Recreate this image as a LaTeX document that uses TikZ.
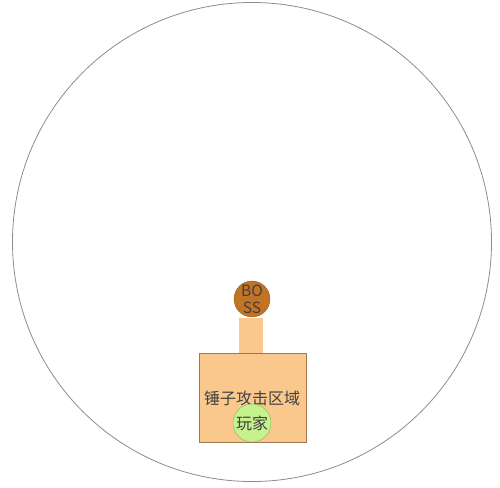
\documentclass[tikz,border=0pt]{standalone}
\usepackage{fontspec}
\newfontfamily\cjk{Noto Sans CJK SC}
\definecolor{arena}{HTML}{8C8C8C}
\definecolor{bossfill}{HTML}{C27424}
\definecolor{bossline}{HTML}{8A5A2A}
\definecolor{zonefill}{HTML}{FAC88C}
\definecolor{zoneline}{HTML}{A07850}
\definecolor{playerfill}{HTML}{C6F28E}
\definecolor{playerline}{HTML}{84B85A}
\definecolor{labeltext}{HTML}{404040}
\begin{document}
\begin{tikzpicture}[x=1pt,y=-1pt]
    \useasboundingbox (0,0) rectangle (500,487);
    \draw[arena,line width=0.8pt] (252,242) circle (239.5);

    \node[rectangle,fill=zonefill,minimum width=24pt,minimum height=36pt,inner sep=0pt] (handle) at (251,336) {};
    \node[draw=zoneline,rectangle,fill=zonefill,minimum width=107pt,minimum height=89pt,inner sep=0pt] (zone) at (252.5,397.5) {};
    \node[text=labeltext,font=\cjk\fontsize{16}{18}\selectfont] (zonelabel) at (252,398) {锤子攻击区域};

    \node[draw=bossline,circle,fill=bossfill,minimum size=32pt,inner sep=0pt,align=center,text=labeltext,font=\fontsize{15.5}{17}\selectfont\cjk] (boss) at (252,299) {BO\\SS};
    \node[draw=playerline,circle,fill=playerfill,minimum size=38pt,inner sep=0pt,text=labeltext,font=\cjk\fontsize{16}{18}\selectfont] (player) at (252,423) {玩家};
\end{tikzpicture}
\end{document}
